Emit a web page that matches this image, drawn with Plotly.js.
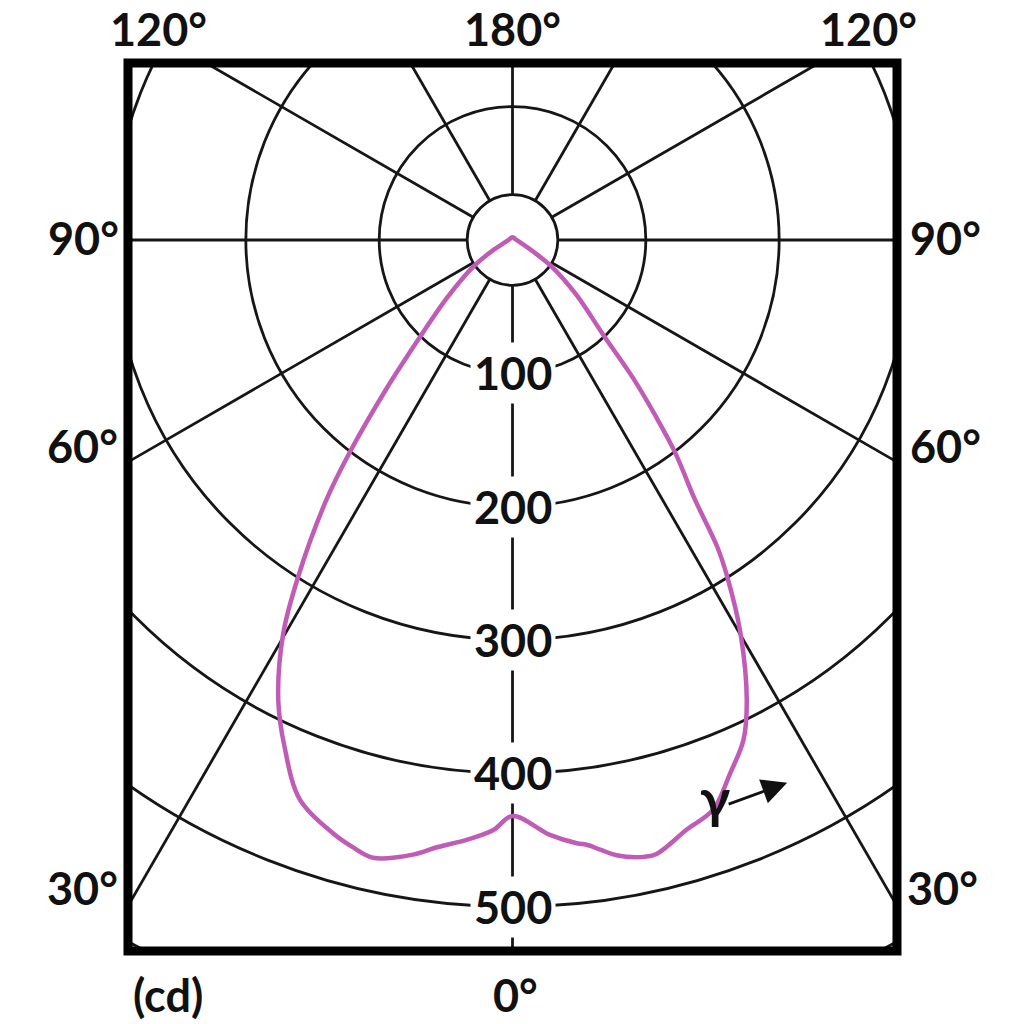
<!DOCTYPE html>
<html><head><meta charset="utf-8">
<script src="https://cdn.plot.ly/plotly-3.0.1.min.js"></script>
<style>html,body{margin:0;padding:0;background:#fff}#chart{width:1024px;height:1024px}</style>
</head><body><div id="chart"></div>
<script>
// Luminous intensity distribution (cd) against gamma angle (deg)
const gammaRight = [0, 3.6, 6.1, 7.0, 8.2, 9.6, 12.0, 13.2, 16.5, 19.4, 22.2, 24.8, 27.0, 30.1, 32.5, 33.7, 35.1, 37.4, 39.0, 41.1, 43.7, 49.4, 55.7, 60.6, 70, 90, 120, 150, 180];
const intensityRight = [432, 447, 455, 457, 462, 468, 473, 473, 461, 453, 432, 413, 387, 341, 300, 277, 238, 201, 172, 138, 99, 63, 36, 18, 7, 3, 2, 2, 2];
const gammaLeft = [0, 1.9, 4.3, 7.1, 9.2, 12.7, 14.7, 16.8, 20.8, 24.2, 27.0, 30.2, 32.5, 35.6, 37.5, 40.3, 43.7, 48.5, 55.7, 62.5, 70, 90, 120, 150, 180];
const intensityLeft = [432, 443, 451, 459, 467, 475, 471, 465, 449, 417, 387, 342, 299, 240, 200, 146, 100, 66, 36, 16, 7, 3, 2, 2, 2];

const ringValues = [100, 200, 300, 400, 500, 600];
const ringLabels = ['100', '200', '300', '400', '500'];
const innerRing = 34;
const spokeAngles = [0, 30, 60, 90, 120, 150, 180, -30, -60, -90, -120, -150];
const angleLabels = ['120°', '180°', '120°', '90°', '90°', '60°', '60°', '30°', '30°', '0°'];
const unitLabel = '(cd)';
const arrowLabel = 'γ';

const rad = d => d * Math.PI / 180;
// curve: left half from 180 down to 0, then right half from 0 to 180
const xs = [], ys = [];
for (let i = gammaLeft.length - 1; i >= 0; i--) {
  xs.push(-intensityLeft[i] * Math.sin(rad(gammaLeft[i])));
  ys.push(intensityLeft[i] * Math.cos(rad(gammaLeft[i])));
}
for (let i = 1; i < gammaRight.length; i++) {
  xs.push(intensityRight[i] * Math.sin(rad(gammaRight[i])));
  ys.push(intensityRight[i] * Math.cos(rad(gammaRight[i])));
}

const gridColor = '#161616';
const shapes = [];
[innerRing].concat(ringValues).forEach(r => {
  shapes.push({type: 'circle', xref: 'x', yref: 'y', x0: -r, x1: r, y0: -r, y1: r,
    line: {color: gridColor, width: 2.8}, layer: 'below'});
});
spokeAngles.forEach(a => {
  shapes.push({type: 'line', xref: 'x', yref: 'y',
    x0: innerRing * Math.sin(rad(a)), y0: innerRing * Math.cos(rad(a)),
    x1: 1000 * Math.sin(rad(a)), y1: 1000 * Math.cos(rad(a)),
    line: {color: gridColor, width: 2.8}, layer: 'below'});
});
shapes.push({type: 'rect', xref: 'paper', yref: 'paper', x0: 0, x1: 1, y0: 0, y1: 1,
  line: {color: '#000', width: 9}, layer: 'above'});

const W = 1024, L = 128, R = 897, T = 63, B = 951;
const px = x => (x - L) / (R - L);
const py = y => (B - y) / (B - T);
const labelFont = {family: 'Lato, "Open Sans", sans-serif', size: 45, color: '#111', weight: 'bold'};
const anglePos = [[158, 29], [512, 29], [868, 29], [83, 238], [945, 238], [82, 446], [945, 446], [82, 888], [942, 888], [515, 995]];
const annotations = [];
angleLabels.forEach((t, i) => {
  annotations.push({text: t, xref: 'paper', yref: 'paper', x: px(anglePos[i][0]), y: py(anglePos[i][1]),
    xanchor: 'center', yanchor: 'middle', showarrow: false, font: labelFont});
});
annotations.push({text: unitLabel, xref: 'paper', yref: 'paper', x: px(168), y: py(995),
  xanchor: 'center', yanchor: 'middle', showarrow: false, font: labelFont});
ringLabels.forEach((t, i) => {
  annotations.push({text: t, xref: 'x', yref: 'y', x: 0, y: ringValues[i],
    xanchor: 'center', yanchor: 'middle', showarrow: false, font: labelFont,
    bgcolor: '#fff', borderpad: 3});
});
// gamma direction arrow
annotations.push({text: '', xref: 'x', yref: 'y', x: 206, y: 407, ax: -60, ay: 22,
  showarrow: true, arrowhead: 2, arrowsize: 1.8, arrowwidth: 2.8, arrowcolor: '#111'});
annotations.push({text: arrowLabel, xref: 'x', yref: 'y', x: 152, y: 418,
  xanchor: 'center', yanchor: 'middle', showarrow: false,
  font: {family: 'Lato, sans-serif', size: 54, color: '#111', weight: 'bold'}});

const trace = {x: xs, y: ys, type: 'scatter', mode: 'lines',
  line: {color: '#c05cb6', width: 4.5, shape: 'spline', smoothing: 1}, hoverinfo: 'skip'};

const layout = {
  width: W, height: W, showlegend: false,
  paper_bgcolor: '#fff', plot_bgcolor: '#fff',
  margin: {l: L, r: W - R, t: T, b: W - B, pad: 0},
  xaxis: {range: [-(512.5 - L) / 1.3333, (R - 512.5) / 1.3333], visible: false, fixedrange: true},
  yaxis: {range: [(B - 240) / 1.3333, -(240 - T) / 1.3333], visible: false, fixedrange: true},
  shapes: shapes, annotations: annotations
};
Plotly.newPlot('chart', [trace], layout, {displayModeBar: false, staticPlot: true});
</script></body></html>
